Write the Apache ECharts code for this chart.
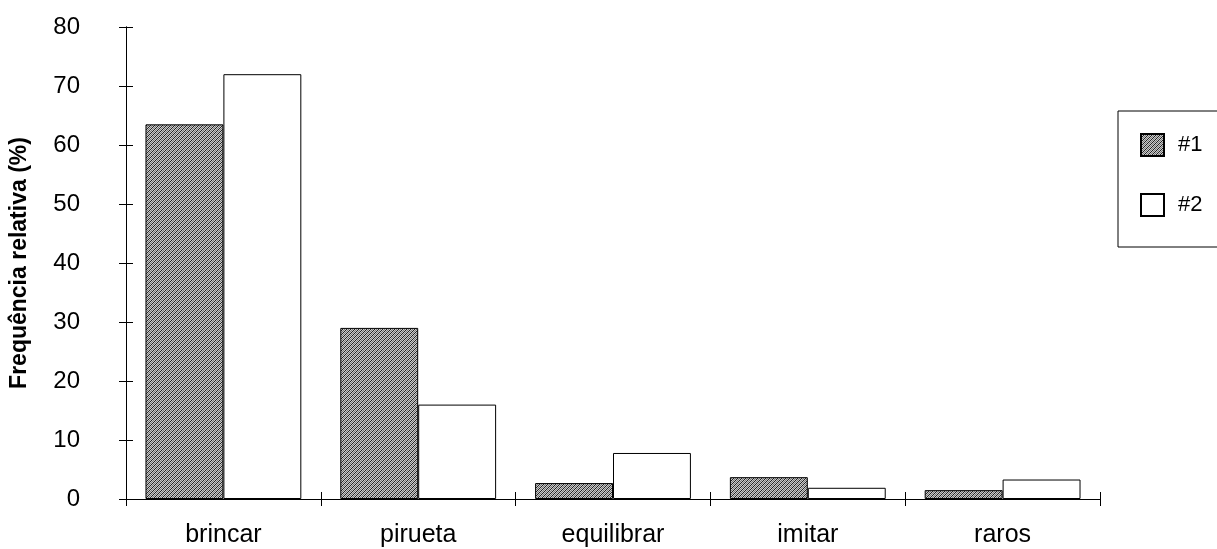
<!DOCTYPE html>
<html>
<head>
<meta charset="utf-8">
<script src="https://cdn.jsdelivr.net/npm/echarts@6/dist/echarts.min.js"></script>
<style>
  html, body { margin: 0; padding: 0; background: #fff; }
  #container { width: 1217px; height: 549px; }
</style>
</head>
<body>
<div id="container"></div>
<script>
var categories = ['brincar', 'pirueta', 'equilibrar', 'imitar', 'raros'];
var seriesNames = ['#1', '#2'];
var values1 = [63.5, 29, 2.7, 3.7, 1.5];
var values2 = [72, 16, 7.8, 1.9, 3.3];
var yTicks = [0, 10, 20, 30, 40, 50, 60, 70, 80];

// small diagonal hatch tile for series #1
function hatch() {
    var c = document.createElement('canvas');
    c.width = 4;
    c.height = 4;
    var ctx = c.getContext('2d');
    ctx.fillStyle = '#cacaca';
    ctx.fillRect(0, 0, 4, 4);
    ctx.fillStyle = '#222';
    for (var i = 0; i < 4; i++) {
        ctx.fillRect(3 - i, i, 1, 1);
    }
    ctx.fillStyle = '#777';
    for (var j = 0; j < 4; j++) {
        ctx.fillRect((5 - j) % 4, j, 1, 1);
    }
    return c;
}

var dom = document.getElementById('container');
var myChart = echarts.init(dom);
var font = '"Liberation Sans", Arial, sans-serif';
var axisLine = { show: true, lineStyle: { color: '#000', width: 1 } };
var outTick = { show: true, length: 7, lineStyle: { color: '#000' } };
var inTick = { show: true, inside: true, length: 7, lineStyle: { color: '#000' } };

var option = {
    animation: false,
    backgroundColor: '#fff',
    textStyle: { fontFamily: font, color: '#000' },
    grid: { left: 125, right: 117, top: 27, bottom: 50 },
    legend: {
        orient: 'vertical',
        left: 1118,
        top: 111,
        padding: [22, 40, 30, 22],
        icon: 'rect',
        itemWidth: 23,
        itemHeight: 22,
        itemGap: 36,
        borderColor: '#000',
        borderWidth: 1,
        textStyle: { fontFamily: font, fontSize: 22, color: '#000', padding: [0, 0, 0, 9] },
        data: seriesNames
    },
    xAxis: [{
        type: 'category',
        data: categories,
        axisLine: axisLine,
        axisTick: outTick,
        axisLabel: { fontFamily: font, fontSize: 25, color: '#000', margin: 24 },
        splitLine: { show: false }
    }, {
        // same axis again, ticks inside, so the ticks cross the line
        type: 'category',
        data: categories,
        position: 'bottom',
        axisLine: axisLine,
        axisTick: inTick,
        axisLabel: { show: false },
        splitLine: { show: false }
    }],
    yAxis: [{
        type: 'value',
        min: yTicks[0],
        max: yTicks[yTicks.length - 1],
        interval: 10,
        name: 'Frequência relativa (%)',
        nameLocation: 'middle',
        nameGap: 95,
        nameTextStyle: { fontFamily: font, fontSize: 23, fontWeight: 'bold', color: '#000' },
        axisLine: axisLine,
        axisTick: outTick,
        axisLabel: { fontFamily: font, fontSize: 24, color: '#000', margin: 46 },
        splitLine: { show: false }
    }, {
        type: 'value',
        min: yTicks[0],
        max: yTicks[yTicks.length - 1],
        interval: 10,
        position: 'left',
        axisLine: axisLine,
        axisTick: inTick,
        axisLabel: { show: false },
        splitLine: { show: false }
    }],
    series: [{
        name: seriesNames[0],
        type: 'bar',
        data: values1,
        barGap: '0%',
        barCategoryGap: '20%',
        itemStyle: {
            color: { image: hatch(), repeat: 'repeat' },
            borderColor: '#000',
            borderWidth: 1
        }
    }, {
        name: seriesNames[1],
        type: 'bar',
        data: values2,
        barGap: '0%',
        barCategoryGap: '20%',
        itemStyle: {
            color: '#fff',
            borderColor: '#000',
            borderWidth: 1
        }
    }]
};

myChart.setOption(option);
</script>
</body>
</html>
